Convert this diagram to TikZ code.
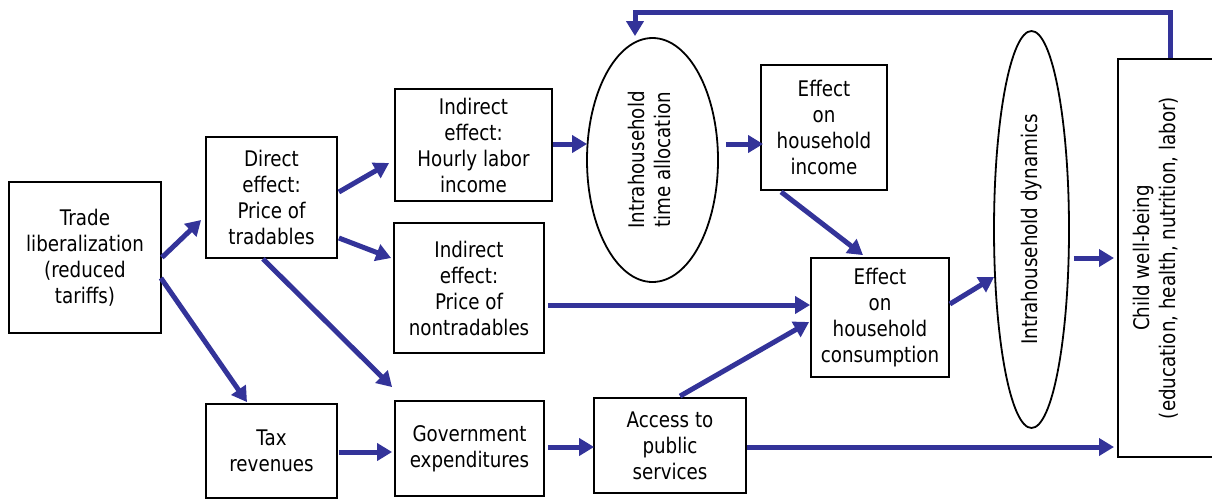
\documentclass[tikz,border=0pt]{standalone}
\usepackage{fontspec}
\setmainfont{DejaVu Sans}[FakeStretch=0.85]
\usetikzlibrary{shapes.geometric,arrows.meta}
\definecolor{arrblue}{RGB}{51,51,153}
\begin{document}
\begin{tikzpicture}[x=1pt,y=-1pt,
  every node/.style={font=\fontsize{21.5}{26}\selectfont},
  box/.style={draw, line width=1.8pt, inner sep=0pt, align=center},
  ell/.style={draw, ellipse, line width=1.8pt, inner sep=0pt},
  arr/.style={draw=arrblue, line width=5pt, -{Triangle[length=15pt,width=17pt]}, arrblue}
]
\useasboundingbox (0,0) rectangle (1212,499);
\clip (0,0) rectangle (1212,499);
% boxes
\node[box, minimum width=152, minimum height=151] (trade) at (85,257.5) {Trade\\liberalization\\(reduced\\tariffs)};
\node[box, minimum width=131, minimum height=121] (direct) at (271.5,197.5) {Direct\\effect:\\Price of\\tradables};
\node[box, minimum width=131, minimum height=94] (tax) at (271.5,451) {Tax\\revenues};
\node[box, minimum width=157, minimum height=112] (hourly) at (473.5,145) {Indirect\\effect:\\Hourly labor\\income};
\node[box, minimum width=150, minimum height=130] (nontrad) at (469,288) {Indirect\\effect:\\Price of\\nontradables};
\node[box, minimum width=149, minimum height=95] (govt) at (469.5,448.5) {Government\\expenditures};
\node[box, minimum width=152, minimum height=95] (access) at (670,445.5) {Access to\\public\\services};
\node[ell, minimum width=131, minimum height=244] (timealloc) at (652.5,160)
  {\rotatebox{90}{\begin{tabular}{@{}c@{}}Intrahousehold\\time allocation\end{tabular}}};
\node[box, minimum width=126, minimum height=125] (income) at (824,127.5) {Effect\\on\\household\\income};
\node[box, minimum width=138, minimum height=119] (consum) at (880,317.5) {Effect\\on\\household\\consumption};
\node[ell, minimum width=75, minimum height=397] (dynamics) at (1031.5,229.5)
  {\rotatebox{90}{Intrahousehold dynamics}};
\node[box, minimum width=98, minimum height=398, anchor=west] (child) at (1117,258) {};
\node (childtxt) at (1157,258)
  {\rotatebox{90}{\begin{tabular}{@{}c@{}}Child well-being\\(education, health, nutrition, labor)\end{tabular}}};
% arrows
\draw[arr] (trade.east) -- ([shift={(-4,22.5)}]direct.west);
\draw[arr] ([shift={(-1,20.5)}]trade.east) -- ([shift={(-24.5,-1)}]tax.north);
\draw[arr] ([shift={(1,-5.5)}]direct.east) -- ([shift={(-5,18)}]hourly.west);
\draw[arr] ([shift={(1,40.5)}]direct.east) -- ([shift={(-2,-30)}]nontrad.west);
\draw[arr] ([shift={(-8.5,0)}]direct.south) -- ([shift={(-2,-13)}]govt.north west);
\draw[arr] ([shift={(1,1)}]tax.east) -- ([shift={(-2,3.5)}]govt.west);
\draw[arr] ([shift={(0,-1)}]hourly.east) -- ([shift={(1,-16)}]timealloc.west);
\draw[arr] ([shift={(7,-16)}]timealloc.east) -- ([shift={(3,16.5)}]income.west);
\draw[arr] ([shift={(21,1)}]income.south west) -- ([shift={(-17,-2)}]consum.north);
\draw[arr] ([shift={(3,17)}]nontrad.east) -- ([shift={(0,-12.5)}]consum.west);
\draw[arr] ([shift={(10,-1)}]access.north) -- ([shift={(-1,4.5)}]consum.west);
\draw[arr] ([shift={(0,-13.5)}]consum.east) -- ([shift={(1,47.5)}]dynamics.west);
\draw[arr] ([shift={(4,28.5)}]dynamics.east) -- ([shift={(-3,0)}]child.west);
\draw[arr] ([shift={(3,-1.5)}]govt.east) -- ([shift={(1,1.5)}]access.west);
\draw[arr] ([shift={(0,1.5)}]access.east) -- ([shift={(-3,189)}]child.west);
\coordinate (fbtop) at (900,12);
\draw[arr] ([shift={(4,0)}]child.north) |- (fbtop) -| ([shift={(-17.5,-1)}]timealloc.north);
\end{tikzpicture}
\end{document}
